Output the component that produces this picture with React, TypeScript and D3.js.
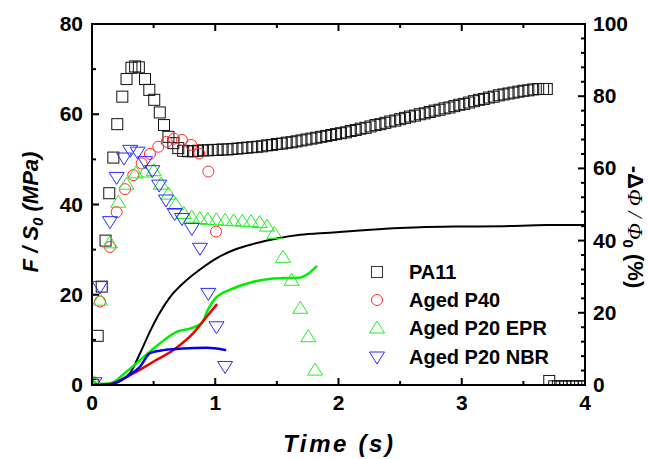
import React from "react";
import * as d3 from "d3";

// ---------- data ----------
const pa11T = [0.01, 0.046, 0.079, 0.11, 0.14, 0.173, 0.205, 0.246, 0.28, 0.32, 0.35, 0.38, 0.43, 0.465, 0.505, 0.55, 0.584, 0.62, 0.66, 0.70, 0.74,
  0.78, 0.82, 0.86, 0.90, 0.94, 0.98, 1.02, 1.06, 1.10, 1.14, 1.18, 1.22, 1.26, 1.30, 1.34, 1.38, 1.42, 1.46, 1.50, 1.54, 1.58, 1.62, 1.66, 1.70,
  1.74, 1.78, 1.82, 1.86, 1.90, 1.94, 1.98, 2.02, 2.06, 2.10, 2.14, 2.18, 2.22, 2.26, 2.30, 2.34, 2.38, 2.42, 2.46, 2.50, 2.54, 2.58, 2.62, 2.66,
  2.70, 2.74, 2.78, 2.82, 2.86, 2.90, 2.94, 2.98, 3.02, 3.06, 3.10, 3.14, 3.18, 3.22, 3.26, 3.30, 3.34, 3.38, 3.42, 3.46, 3.50, 3.54, 3.58, 3.62,
  3.66, 3.69, 3.71, 3.75, 3.78, 3.81, 3.84, 3.87, 3.90, 3.93, 3.96, 3.99];
const pa11V = [0.0, 10.9, 21.8, 32.0, 42.5, 50.4, 57.8, 63.9, 67.8, 70.3, 70.6, 70.4, 67.8, 65.4, 63.2, 60.4, 57.6, 55.0, 53.6, 52.5, 51.9,
  51.8, 51.8, 51.9, 52.0, 52.0, 52.1, 52.1, 52.2, 52.2, 52.3, 52.4, 52.5, 52.6, 52.7, 52.8, 52.9, 53.1, 53.2, 53.4, 53.5, 53.7, 53.8, 54.0, 54.2,
  54.4, 54.6, 54.8, 55.0, 55.2, 55.4, 55.6, 55.8, 56.0, 56.3, 56.5, 56.8, 57.0, 57.3, 57.6, 57.8, 58.1, 58.4, 58.6, 58.9, 59.2, 59.5, 59.7, 60.0,
  60.2, 60.5, 60.8, 61.0, 61.3, 61.5, 61.8, 62.1, 62.3, 62.6, 62.9, 63.2, 63.4, 63.7, 63.9, 64.2, 64.4, 64.6, 64.8, 65.0, 65.2, 65.3, 65.5, 65.6,
  65.6, 65.6, 0.9, -0.3, -0.3, -0.3, -0.3, -0.3, -0.3, -0.3, -0.3, -0.3];

const p40T = [0.02, 0.065, 0.146, 0.2, 0.268, 0.335, 0.403, 0.47, 0.538, 0.606, 0.665, 0.73, 0.805, 0.87, 0.944, 1.006];
const p40V = [0.3, 18.5, 30.6, 38.3, 43.4, 46.5, 49.1, 51.2, 52.8, 53.9, 54.6, 54.3, 53.2, 51.3, 47.3, 34.0];

const eprT = [0.02, 0.065, 0.146, 0.213, 0.28, 0.355, 0.43, 0.5, 0.56, 0.62, 0.68, 0.745, 0.81, 0.875, 0.94, 1.01, 1.08, 1.15, 1.22, 1.29, 1.36, 1.42, 1.48, 1.55, 1.62, 1.69, 1.755, 1.81];
const eprV = [0.5, 18.8, 31.5, 40.5, 44.5, 47.0, 47.2, 47.5, 44.5, 42.3, 40.0, 38.0, 37.2, 36.9, 36.7, 36.6, 36.5, 36.4, 36.3, 36.2, 36.0, 35.2, 33.6, 28.3, 23.2, 17.0, 10.7, 3.3];

const nbrT = [0.02, 0.065, 0.146, 0.2, 0.26, 0.31, 0.37, 0.43, 0.49, 0.545, 0.6, 0.67, 0.73, 0.81, 0.876, 0.944, 1.01, 1.08];
const nbrV = [0.5, 21.8, 36.2, 46.0, 50.3, 52.0, 51.6, 49.5, 47.5, 44.3, 41.0, 38.0, 36.9, 34.7, 30.3, 20.3, 12.9, 4.1];

// volume variation curves (right axis, %)
const pa11LineT = [0, 0.15, 0.25, 0.31, 0.39, 0.47, 0.55, 0.63, 0.74, 0.876, 1.01, 1.15, 1.31, 1.5, 1.69, 1.93, 2.2, 2.66, 3.0, 3.34, 3.69, 4.0];
const pa11LineV = [0, 0.2, 1.5, 3.4, 8.8, 14.8, 20.0, 24.2, 28.2, 32.0, 35.1, 37.4, 39.1, 40.6, 41.6, 42.2, 42.9, 43.7, 43.9, 44.0, 44.3, 44.3];
const p40LineT = [0, 0.15, 0.335, 0.5, 0.66, 0.82, 0.93, 1.01];
const p40LineV = [0, 0.3, 3.2, 6.5, 9.7, 14.3, 18.9, 22.2];
const eprLineT = [0, 0.05, 0.15, 0.28, 0.42, 0.55, 0.69, 0.8, 0.89, 0.94, 1.0, 1.15, 1.31, 1.47, 1.69, 1.74, 1.82];
const eprLineV = [1.4, 0.3, 0.5, 3.7, 7.8, 11.5, 14.8, 15.7, 17.1, 20.8, 24.0, 26.8, 28.6, 29.5, 29.8, 30.5, 32.8];
const nbrLineT = [0, 0.15, 0.28, 0.39, 0.47, 0.55, 0.74, 0.93, 1.01, 1.08];
const nbrLineV = [0, 0.2, 2.3, 5.1, 8.8, 9.5, 10.1, 10.3, 10.1, 9.7];

const xTicks = [0, 1, 2, 3, 4];
const yLeftTicks = [0, 20, 40, 60, 80];
const yRightTicks = [0, 20, 40, 60, 80, 100];
const legendLabels = ["PA11", "Aged P40", "Aged P20 EPR", "Aged P20 NBR"];

const RED = "#ff2a2a";
const GREEN = "#22ee22";
const BLUE = "#2a2aff";

export default function App() {
  const W = 649, H = 459;
  const L = 92, R = 585, T = 24, B = 385;
  const x = d3.scaleLinear().domain([0, 4]).range([L, R]);
  const yL = d3.scaleLinear().domain([0, 80]).range([B, T]);
  const yR = d3.scaleLinear().domain([0, 100]).range([B, T]);

  const line = (ts: number[], vs: number[]) =>
    d3.line<number>().x((_, i) => x(ts[i])).y((_, i) => yR(vs[i])).curve(d3.curveMonotoneX)(ts) || "";

  const sq = 5.5;
  const square = (cx: number, cy: number, k: string, c = "#111") => (
    <rect key={k} x={cx - sq} y={cy - sq} width={2 * sq} height={2 * sq} fill="none" stroke={c} strokeWidth={1} />
  );
  const circle = (cx: number, cy: number, k: string) => (
    <circle key={k} cx={cx} cy={cy} r={5.5} fill="none" stroke={RED} strokeWidth={1} />
  );
  const up = (cx: number, cy: number, k: string) => (
    <path key={k} d={`M${cx},${cy - 7}L${cx + 7.5},${cy + 5}L${cx - 7.5},${cy + 5}Z`} fill="none" stroke={GREEN} strokeWidth={1} />
  );
  const down = (cx: number, cy: number, k: string) => (
    <path key={k} d={`M${cx},${cy + 7}L${cx + 7.5},${cy - 5}L${cx - 7.5},${cy - 5}Z`} fill="none" stroke={BLUE} strokeWidth={1} />
  );

  const font = "'Liberation Sans', Arial, sans-serif";
  const minorX = d3.range(0.5, 4, 1);
  const minorYL = d3.range(10, 80, 20);
  const minorYR = d3.range(0, 101, 4).filter((v) => v % 20 !== 0);

  const legendY = [272, 300, 328, 357];

  return (
    <svg width={W} height={H} style={{ position: "absolute", left: 0, top: 0, background: "#fff" }} fontFamily={font}>
      <defs>
        <clipPath id="plot">
          <rect x={L} y={T} width={R - L} height={B - T} />
        </clipPath>
      </defs>
      <rect x={0} y={0} width={W} height={H} fill="#fff" />

      {/* lines */}
      <g clipPath="url(#plot)" fill="none" strokeLinejoin="round" strokeLinecap="round">
        <path d={line(pa11LineT, pa11LineV)} stroke="#000" strokeWidth={2} />
        <path d={line(eprLineT, eprLineV)} stroke="#00ee00" strokeWidth={2.5} />
        <path d={line(p40LineT, p40LineV)} stroke="#ee0000" strokeWidth={2.5} />
        <path d={line(nbrLineT, nbrLineV)} stroke="#0000ee" strokeWidth={2.5} />
      </g>

      {/* markers */}
      <g clipPath="url(#plot)">
        {pa11T.map((t, i) => square(x(t), yL(pa11V[i]), "s" + i))}
        {p40T.map((t, i) => circle(x(t), yL(p40V[i]), "c" + i))}
        {eprT.map((t, i) => up(x(t), yL(eprV[i]), "u" + i))}
        {nbrT.map((t, i) => down(x(t), yL(nbrV[i]), "d" + i))}
      </g>

      {/* frame */}
      <rect x={L} y={T} width={R - L} height={B - T} fill="none" stroke="#000" strokeWidth={2} />

      {/* x ticks */}
      {xTicks.map((t) => (
        <g key={"xt" + t}>
          <line x1={x(t)} x2={x(t)} y1={B} y2={B - 7} stroke="#000" strokeWidth={2} />
          <line x1={x(t)} x2={x(t)} y1={T} y2={T + 7} stroke="#000" strokeWidth={2} />
          <text x={x(t)} y={B + 25} textAnchor="middle" fontSize={21} fontWeight="bold">{t}</text>
        </g>
      ))}
      {minorX.map((t) => (
        <g key={"xm" + t}>
          <line x1={x(t)} x2={x(t)} y1={B} y2={B - 4} stroke="#000" strokeWidth={2} />
          <line x1={x(t)} x2={x(t)} y1={T} y2={T + 4} stroke="#000" strokeWidth={2} />
        </g>
      ))}

      {/* left y ticks */}
      {yLeftTicks.map((v) => (
        <g key={"yl" + v}>
          <line x1={L} x2={L + 7} y1={yL(v)} y2={yL(v)} stroke="#000" strokeWidth={2} />
          <text x={L - 9} y={yL(v) + 7} textAnchor="end" fontSize={21} fontWeight="bold">{v}</text>
        </g>
      ))}
      {minorYL.map((v) => (
        <line key={"ylm" + v} x1={L} x2={L + 4} y1={yL(v)} y2={yL(v)} stroke="#000" strokeWidth={2} />
      ))}

      {/* right y ticks */}
      {yRightTicks.map((v) => (
        <g key={"yr" + v}>
          <line x1={R} x2={R - 7} y1={yR(v)} y2={yR(v)} stroke="#000" strokeWidth={2} />
          <text x={R + 8} y={yR(v) + 7} textAnchor="start" fontSize={21} fontWeight="bold">{v}</text>
        </g>
      ))}
      {minorYR.map((v) => (
        <line key={"yrm" + v} x1={R} x2={R - 4} y1={yR(v)} y2={yR(v)} stroke="#000" strokeWidth={2} />
      ))}

      {/* axis titles */}
      <text x={338} y={452} textAnchor="middle" fontSize={24} fontWeight="bold" fontStyle="italic" textLength={110} lengthAdjust="spacing">
        Time (s)
      </text>
      <text transform="translate(38,212) rotate(-90)" textAnchor="middle" fontSize={22} fontWeight="bold" fontStyle="italic">
        <tspan>F / S</tspan>
        <tspan fontSize={15} dy={5}>0</tspan>
        <tspan dy={-5}> (MPa)</tspan>
      </text>
      <text transform="translate(628,227) rotate(90)" textAnchor="middle" fontSize={22} fontWeight="bold">
        <tspan>-Δ</tspan>
        <tspan fontFamily="'Liberation Serif', serif" fontStyle="italic" fontWeight="normal">Φ / Φ</tspan>
        <tspan fontSize={15} dy={5}>0</tspan>
        <tspan dy={-5}> (%)</tspan>
      </text>

      {/* legend */}
      {legendLabels.map((lab, i) => {
        const cy = legendY[i];
        const mx = 377;
        const m = i === 0 ? square(mx, cy, "ls", "#333") : i === 1 ? circle(mx, cy, "lc") : i === 2 ? up(mx, cy, "lu") : down(mx, cy, "ld");
        return (
          <g key={"lg" + i}>
            {m}
            <text x={409} y={cy + 7} fontSize={20} fontWeight="bold">{lab}</text>
          </g>
        );
      })}
    </svg>
  );
}
